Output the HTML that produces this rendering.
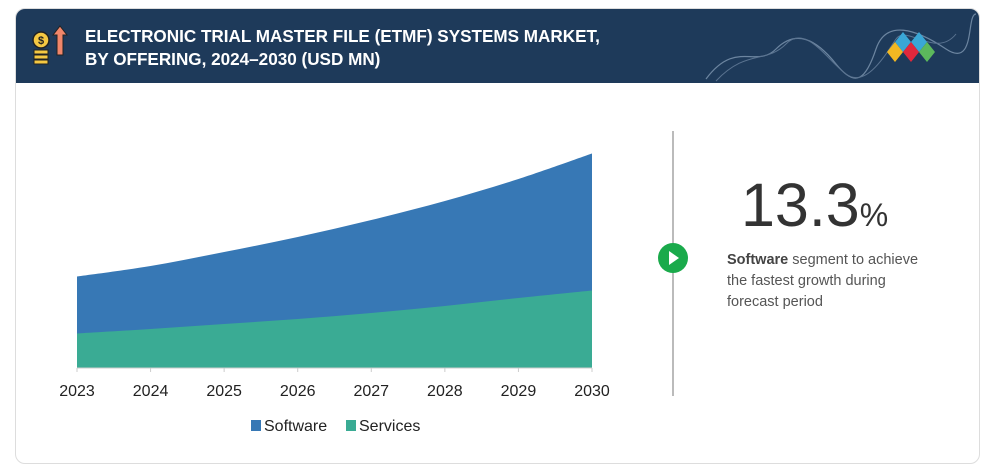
<!DOCTYPE html>
<html><head><meta charset="utf-8">
<style>
body{margin:0;width:987px;height:472px;background:#fff;font-family:"Liberation Sans",sans-serif;overflow:hidden;position:relative}
.card{position:absolute;left:15px;top:8px;width:963px;height:454px;border:1px solid #ddd;border-radius:10px;overflow:hidden;background:#fff}
.hdr{position:absolute;left:0;top:0;width:963px;height:74px;background:#1e3a5a}
.title{position:absolute;left:69px;top:16px;color:#fff;font-weight:bold;font-size:17.3px;line-height:23px;transform:scaleX(0.99);transform-origin:left top;white-space:nowrap}
</style></head><body>
<div class="card">
 <div class="hdr">
  <svg width="963" height="74" style="position:absolute;left:0;top:0">
   <circle cx="25" cy="31" r="8" fill="#f5c842" stroke="#222" stroke-width="1.5"/>
   <text x="25" y="35" font-size="11" text-anchor="middle" fill="#222" font-weight="bold">$</text>
   <rect x="18" y="41" width="14" height="4" fill="#f5c842" stroke="#222"/>
   <rect x="18" y="46" width="14" height="4" fill="#f5c842" stroke="#222"/>
   <rect x="18" y="51" width="14" height="4" fill="#f5c842" stroke="#222"/>
   <polygon points="44,17 51,26 47,26 47,46 41,46 41,26 37,26" fill="#f0866a" stroke="#222"/>
   <path d="M690,70 C720,30 740,60 760,40 S800,30 820,55 S850,70 860,40 S900,20 930,40 S950,5 960,5" stroke="#6c85a0" fill="none" stroke-width="1.2"/>
   <path d="M700,72 C730,40 750,55 770,35 S810,50 830,65 S870,45 880,30 S920,50 940,25" stroke="#5a7390" fill="none" stroke-width="1"/>
   <polygon points="887,23 895,33 887,43 879,33" fill="#3aa7d6"/>
   <polygon points="903,23 911,33 903,43 895,33" fill="#3aa7d6"/>
   <polygon points="879,33 887,43 879,53 871,43" fill="#f2b822"/>
   <polygon points="895,33 903,43 895,53 887,43" fill="#e0283c"/>
   <polygon points="911,33 919,43 911,53 903,43" fill="#5cb85c"/>
  </svg>
  <div class="title">ELECTRONIC TRIAL MASTER FILE (ETMF) SYSTEMS MARKET,<br>BY OFFERING, 2024–2030 (USD MN)</div>
 </div>
</div>
<svg id="chart" width="987" height="472" style="position:absolute;left:0;top:0"></svg>
<div style="position:absolute;left:672px;top:131px;width:2px;height:265px;background:#bbb"></div>
<svg width="34" height="34" style="position:absolute;left:656px;top:241px"><circle cx="17" cy="17" r="15" fill="#1aaa4b"/><polygon points="13,10 23,17 13,24" fill="#fff"/></svg>
<div style="position:absolute;left:741px;top:170px;font-size:61px;color:#333;white-space:nowrap">13.3<span style="font-size:32px">%</span></div>
<div style="position:absolute;left:727px;top:250px;font-size:14.5px;line-height:21px;color:#555;width:205px"><b style="color:#444">Software</b> segment to achieve the fastest growth during forecast period</div>
<script>
const years=["2023","2024","2025","2026","2027","2028","2029","2030"];
const services=[69,78,88,98,110,124,140,155];
const software=[114,126,144,164,186,210,238,274];
const svg=document.getElementById('chart');
const NS="http://www.w3.org/2000/svg";
const x0=77,x1=592,base=368,k=0.5;
const xs=i=>x0+(x1-x0)*i/(years.length-1);
const ys=v=>base-v*k;
function smooth(pts){let d="";for(let i=0;i<pts.length;i++){const p=pts[i];if(i===0){d+="M"+p[0]+","+p[1];continue;}const p0=pts[i-2]||pts[i-1],p1=pts[i-1],p3=pts[i+1]||p;const c1=[p1[0]+(p[0]-p0[0])/6,p1[1]+(p[1]-p0[1])/6],c2=[p[0]-(p3[0]-p1[0])/6,p[1]-(p3[1]-p1[1])/6];d+=" C"+c1+" "+c2+" "+p;}return d;}
const totPts=years.map((y,i)=>[xs(i),ys(services[i]+software[i])]);
const svcPts=years.map((y,i)=>[xs(i),ys(services[i])]);
const a1=document.createElementNS(NS,'path');
a1.setAttribute('d',smooth(totPts)+" L"+x1+","+base+" L"+x0+","+base+" Z");
a1.setAttribute('fill','#3778b5');


svg.appendChild(a1);
const a2=document.createElementNS(NS,'path');
a2.setAttribute('d',smooth(svcPts)+" L"+x1+","+base+" L"+x0+","+base+" Z");
a2.setAttribute('fill','#3aab94');


svg.appendChild(a2);
const ax=document.createElementNS(NS,'line');
ax.setAttribute('x1',x0);ax.setAttribute('x2',x1);ax.setAttribute('y1',base);ax.setAttribute('y2',base);ax.setAttribute('stroke','#ccc');


svg.appendChild(ax);
years.forEach((y,i)=>{
 const t=document.createElementNS(NS,'line');
 t.setAttribute('x1',xs(i));t.setAttribute('x2',xs(i));t.setAttribute('y1',base);t.setAttribute('y2',base+4);t.setAttribute('stroke','#ccc');
 
 
 svg.appendChild(t);
 const l=document.createElementNS(NS,'text');
 l.setAttribute('x',xs(i));l.setAttribute('y',base+28);l.setAttribute('text-anchor','middle');l.setAttribute('font-size','16');l.setAttribute('fill','#222');l.setAttribute('font-family','Liberation Sans, sans-serif');
 l.textContent=y;
 
 
 svg.appendChild(l);
});
const leg=[["Software","#3778b5",251],["Services","#3aab94",346]];
leg.forEach(e=>{
 const g=document.createElementNS(NS,'g');
 
 
 const r=document.createElementNS(NS,'rect');
 r.setAttribute('x',e[2]);r.setAttribute('y',420);r.setAttribute('width',10);r.setAttribute('height',11);r.setAttribute('fill',e[1]);
 g.appendChild(r);
 const t=document.createElementNS(NS,'text');
 t.setAttribute('x',e[2]+13);t.setAttribute('y',431);t.setAttribute('font-size','16');t.setAttribute('fill','#222');t.setAttribute('font-family','Liberation Sans, sans-serif');
 t.textContent=e[0];
 g.appendChild(t);
 svg.appendChild(g);
});
</script>
</body></html>
